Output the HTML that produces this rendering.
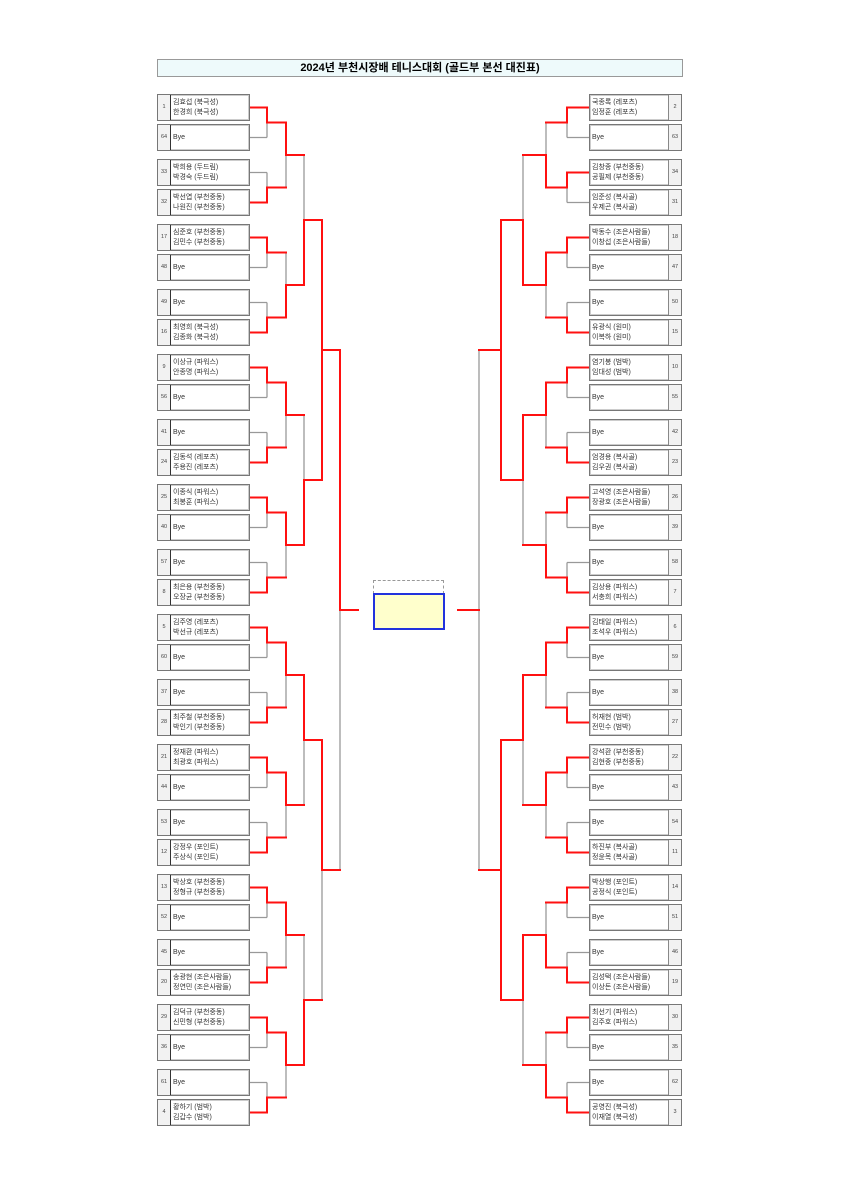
<!DOCTYPE html>
<html><head><meta charset="utf-8">
<style>
body{margin:0;background:#fff;width:841px;height:1190px;position:relative;overflow:hidden;font-family:"Liberation Sans","Noto Sans CJK KR",sans-serif;}
.title{position:absolute;left:157px;top:59px;width:524px;height:16px;border:1px solid #999;background:#eefafb;text-align:center;font-weight:bold;font-size:11px;line-height:16px;color:#000;}
.box{position:absolute;width:91px;height:25px;border:1px solid #777;box-shadow:inset 0 0 0 1px #ccc;background:#fff;font-size:7px;color:#333;}
.box .n{position:absolute;top:0;width:12px;height:25px;background:#f2f2f2;text-align:center;line-height:25px;font-size:5.5px;color:#444;}
.box .t{position:absolute;top:0;height:25px;display:flex;flex-direction:column;justify-content:center;line-height:10px;white-space:nowrap;}
.L .n{left:0;border-right:1px solid #333;}
.L .t{left:15px;}
.R .n{right:0;border-left:1px solid #888;}
.R .t{left:2px;}
svg{position:absolute;left:0;top:0;}
</style></head><body>
<div class="title">2024년 부천시장배 테니스대회 (골드부 본선 대진표)</div>
<svg id="s" width="841" height="1190"></svg>
<div style="position:absolute;left:373px;top:580px;width:69px;height:12px;border:1px dashed #999;"></div>
<div style="position:absolute;left:373px;top:593px;width:68px;height:33px;border:2px solid #2233dd;background:#ffffcc;"></div>
<div id="boxes"></div>
<script>
var L=[["1","김효섭 (북극성)","한경희 (북극성)"],["64","Bye"],["33","박희용 (두드림)","박경숙 (두드림)"],["32","박선엽 (부천중동)","나원진 (부천중동)"],
["17","심준호 (부천중동)","김민수 (부천중동)"],["48","Bye"],["49","Bye"],["16","최영희 (북극성)","김종화 (북극성)"],
["9","이상규 (파워스)","안종명 (파워스)"],["56","Bye"],["41","Bye"],["24","김동석 (레포츠)","주용진 (레포츠)"],
["25","이종식 (파워스)","최봉훈 (파워스)"],["40","Bye"],["57","Bye"],["8","최은용 (부천중동)","오장균 (부천중동)"],
["5","김주영 (레포츠)","박선규 (레포츠)"],["60","Bye"],["37","Bye"],["28","최주철 (부천중동)","박인기 (부천중동)"],
["21","정재환 (파워스)","최광호 (파워스)"],["44","Bye"],["53","Bye"],["12","강정우 (포인트)","주상식 (포인트)"],
["13","박상호 (부천중동)","정형규 (부천중동)"],["52","Bye"],["45","Bye"],["20","송광현 (조은사람들)","정연민 (조은사람들)"],
["29","김덕규 (부천중동)","신민형 (부천중동)"],["36","Bye"],["61","Bye"],["4","황하기 (범박)","김갑수 (범박)"]];
var R=[["2","국종록 (레포츠)","임정훈 (레포츠)"],["63","Bye"],["34","김창종 (부천중동)","공필제 (부천중동)"],["31","임준성 (복사골)","우제곤 (복사골)"],
["18","박동수 (조은사람들)","이창섭 (조은사람들)"],["47","Bye"],["50","Bye"],["15","유광식 (원미)","이복하 (원미)"],
["10","염기봉 (범박)","임대성 (범박)"],["55","Bye"],["42","Bye"],["23","엄경용 (복사골)","김우권 (복사골)"],
["26","고석영 (조은사람들)","장광호 (조은사람들)"],["39","Bye"],["58","Bye"],["7","김상용 (파워스)","서충희 (파워스)"],
["6","김태일 (파워스)","조석우 (파워스)"],["59","Bye"],["38","Bye"],["27","허재현 (범박)","전민수 (범박)"],
["22","강석환 (부천중동)","김현중 (부천중동)"],["43","Bye"],["54","Bye"],["11","하진부 (복사골)","정윤목 (복사골)"],
["14","박상행 (포인트)","공정식 (포인트)"],["51","Bye"],["46","Bye"],["19","김성택 (조은사람들)","이상돈 (조은사람들)"],
["30","최선기 (파워스)","김주호 (파워스)"],["35","Bye"],["62","Bye"],["3","공영진 (북극성)","이재열 (북극성)"]];
var h='';
function boxes(arr,side,x){for(var i=0;i<32;i++){var y=94+65*Math.floor(i/2)+(i%2)*30;var e=arr[i];
h+='<div class="box '+side+'" style="left:'+x+'px;top:'+y+'px"><div class="n">'+e[0]+'</div><div class="t"><span>'+e[1]+'</span>'+(e[2]?'<span>'+e[2]+'</span>':'')+'</div></div>';}}
boxes(L,'L',157);boxes(R,'R',589);
document.getElementById('boxes').innerHTML=h;
var grey='',red='';
function ln(x1,y1,x2,y2,r){var s='<line x1="'+x1+'" y1="'+y1+'" x2="'+x2+'" y2="'+y2+'"/>';if(r)red+=s;else grey+=s;}
function side(xs,W){var nodes=[];for(var i=0;i<32;i++){var y=94+65*Math.floor(i/2)+(i%2)*30+13.5;var w=W[0][Math.floor(i/2)];nodes.push({y:y,r:(i%2==0?(w=='t'||w=='both'):(w=='b'||w=='both'))});}
for(var r=0;r<5;r++){var nn=[];for(var k=0;k<nodes.length/2;k++){var a=nodes[2*k],b=nodes[2*k+1],w=W[r][k],v=xs[r+1],p=xs[r],m=(a.y+b.y)/2;
ln(p,a.y,v,a.y,a.r);ln(p,b.y,v,b.y,b.r);ln(v,a.y,v,m,w=='t'||w=='both');ln(v,m,v,b.y,w=='b'||w=='both');nn.push({y:m,r:w!='none'});}nodes=nn;}
ln(xs[5],nodes[0].y,xs[6],nodes[0].y,true);}
var alt=[];for(var i=0;i<16;i++)alt.push(i%2?'b':'t');
side([250,267,286,304,322,340,358],[alt,['t','b','t','t','t','t','t','t'],['b','b','t','b'],['both','t'],['t']]);
side([589,567,546,523,501,479,458],[['t','t','t','b','t','b','t','b','t','b','t','b','t','b','t','b'],['b','t','t','b','t','t','b','b'],['b','t','t','t'],['both','both'],['none']]);
document.getElementById('s').innerHTML='<g stroke="#999" stroke-width="1.3" fill="none">'+grey+'</g><g stroke="#ff1010" stroke-width="2" fill="none" stroke-linecap="square">'+red+'</g>';
</script>
</body></html>
